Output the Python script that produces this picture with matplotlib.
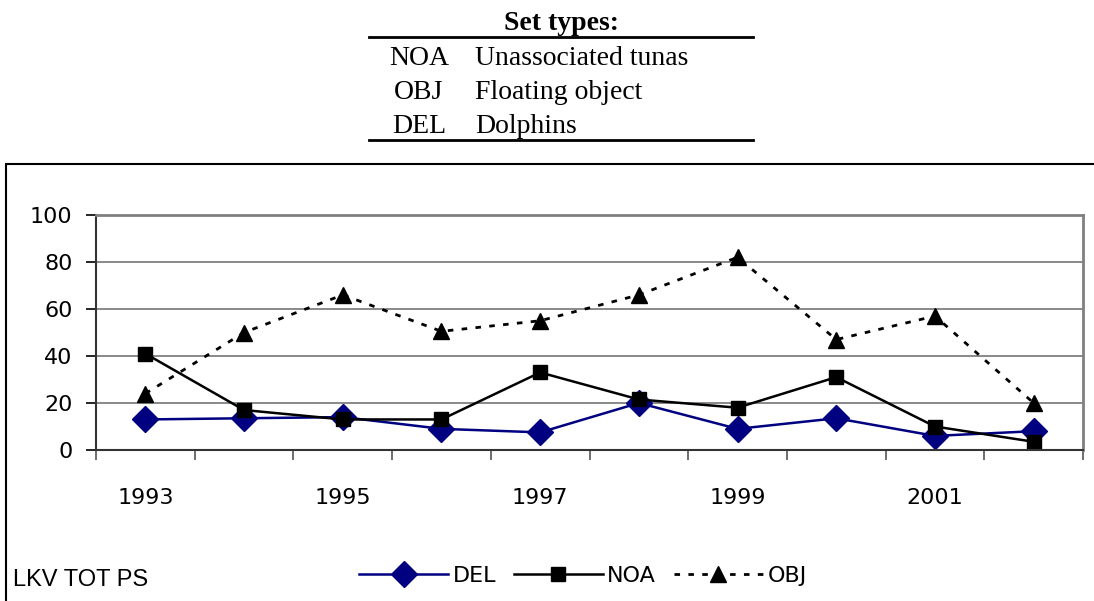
"""Set types by year (LKV TOT PS)"""
import matplotlib
matplotlib.use("Agg")
import matplotlib.pyplot as plt
from matplotlib.lines import Line2D
from matplotlib.patches import Rectangle

# data
years = ["1993", "1994", "1995", "1996", "1997", "1998", "1999", "2000", "2001", "2002"]
del_vals = [13, 13.5, 14, 9, 7.5, 20, 9, 13.5, 6, 8]
noa_vals = [41, 17, 13, 13, 33, 21.5, 18, 31, 10, 3.5]
obj_vals = [24, 50, 66, 50.5, 55, 66, 82, 47, 57, 20]
set_codes = ["NOA", "OBJ", "DEL"]
set_names = ["Unassociated tunas", "Floating object", "Dolphins"]

W, H = 1094, 601
fig = plt.figure(figsize=(W / 100, H / 100), dpi=100)

# outer chart frame (left, top, right beyond the edge)
fig.add_artist(Rectangle((6 / W, -0.05), 1.1, 1.05 - 164 / H, transform=fig.transFigure,
                         fill=False, lw=1.5, ec="black"))

# set type table
serif = "Liberation Serif"
fig.text(562 / W, 1 - 30 / H, "Set types:", ha="center", va="baseline",
         fontsize=20, fontweight="bold", family=serif)
for yy in (37, 140):
    fig.add_artist(Line2D([369 / W, 753 / W], [1 - yy / H, 1 - yy / H],
                          transform=fig.transFigure, color="black", lw=2))
for i, (code, name) in enumerate(zip(set_codes, set_names)):
    yy = 1 - (65 + 34 * i) / H
    fig.text(419 / W, yy, code, ha="center", va="baseline", fontsize=20, family=serif)
    fig.text(475 / W, yy, name, ha="left", va="baseline", fontsize=20, family=serif)

# plot
ax = fig.add_axes([96 / W, 1 - 450 / H, (1083 - 96) / W, (450 - 215) / H])
x = range(len(years))
ax.plot(x, del_vals, color="#000080", lw=1.8, marker="D", ms=13, label="DEL")
ax.plot(x, noa_vals, color="black", lw=1.8, marker="s", ms=10, label="NOA")
ax.plot(x, obj_vals, color="black", lw=2, ls=(0, (2, 3)), marker="^", ms=12, label="OBJ")

ax.set_xlim(-0.5, len(years) - 0.5)
ax.set_ylim(0, 100)
ax.set_yticks(range(0, 101, 20))
ax.yaxis.grid(True, color="#808080", lw=1.3)
ax.set_axisbelow(True)

ax.set_xticks(list(x))
ax.set_xticklabels([y if i % 2 == 0 else "" for i, y in enumerate(years)])
ax.set_xticks([i - 0.5 for i in range(len(years) + 1)], minor=True)
ax.tick_params(axis="x", which="major", length=0, pad=27, labelsize=16)
ax.tick_params(axis="x", which="minor", length=7, width=1.2, color="#555555")
ax.tick_params(axis="y", length=7, width=1.2, pad=10, labelsize=16)

for side in ("top", "right"):
    ax.spines[side].set_color("#808080")
    ax.spines[side].set_linewidth(2)
for side in ("left", "bottom"):
    ax.spines[side].set_color("#333333")
    ax.spines[side].set_linewidth(1.5)

fig.text(13 / W, 1 - 586 / H, "LKV TOT PS", ha="left", va="baseline", fontsize=17,
         family="Liberation Sans")
fig.legend(loc="center", bbox_to_anchor=(583 / W, 1 - 576 / H), ncol=3, frameon=False,
           fontsize=16, handlelength=4.0, columnspacing=0.8, handletextpad=0.2)

fig.savefig("out.png", dpi=100)
